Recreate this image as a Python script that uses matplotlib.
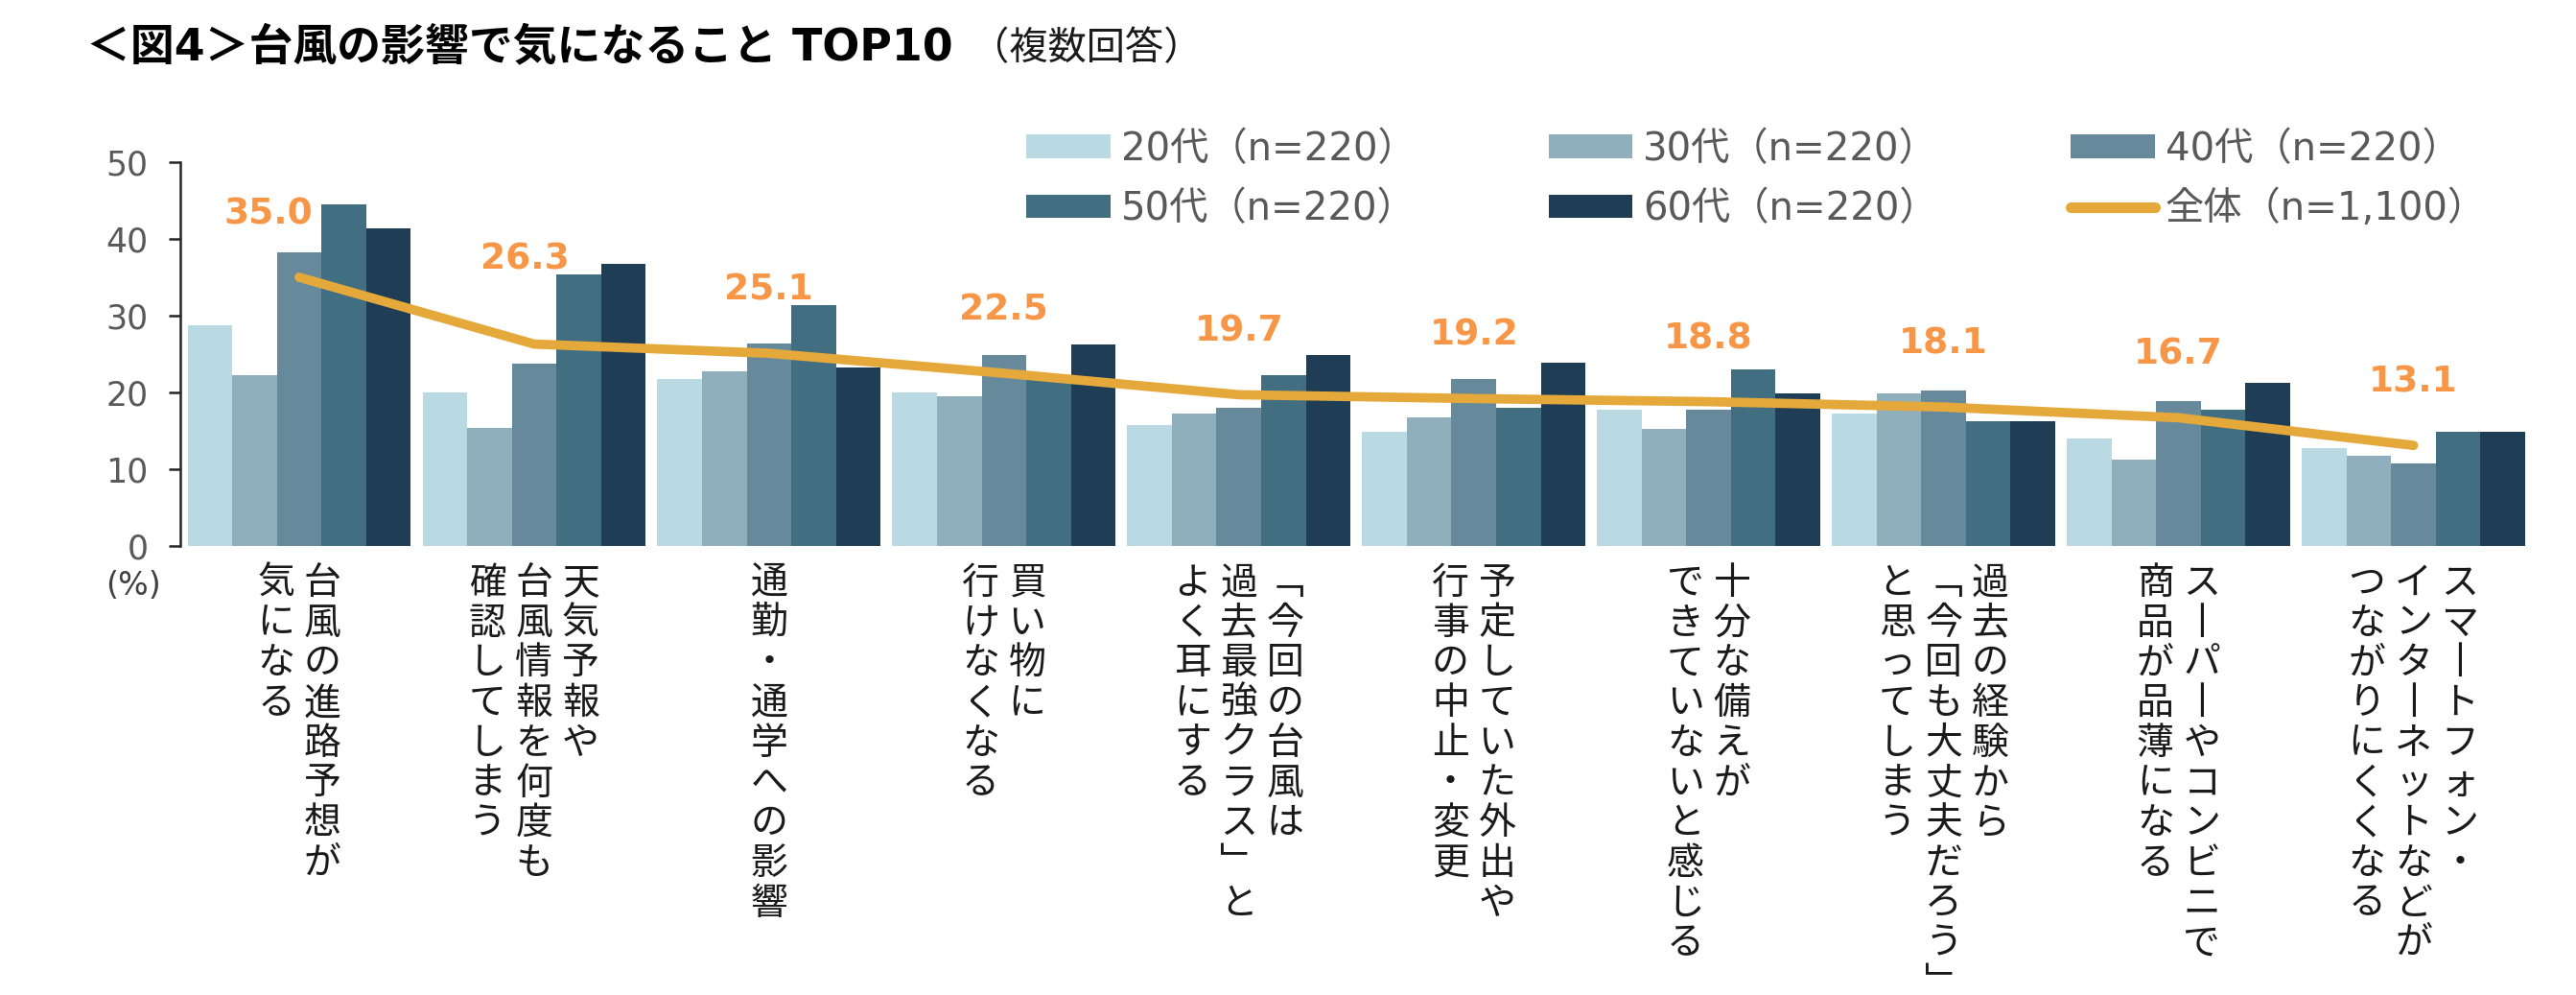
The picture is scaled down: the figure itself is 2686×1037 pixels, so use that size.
import matplotlib
matplotlib.use('Agg')
import matplotlib.pyplot as plt
import numpy as np

# 日本語はNoto Sans CJK JP、英数字はDejaVu Sans
plt.rcParams['font.family'] = ['DejaVu Sans', 'Noto Sans CJK JP']

# データ
categories = [
    '台風の進路予想が\n気になる',
    '天気予報や\n台風情報を何度も\n確認してしまう',
    '通勤・通学への影響',
    '買い物に\n行けなくなる',
    '「今回の台風は\n過去最強クラス」と\nよく耳にする',
    '予定していた外出や\n行事の中止・変更',
    '十分な備えが\nできていないと感じる',
    '過去の経験から\n「今回も大丈夫だろう」\nと思ってしまう',
    'スーパーやコンビニで\n商品が品薄になる',
    'スマートフォン・\nインターネットなどが\nつながりにくくなる',
]
age_labels = ['20代（n=220）', '30代（n=220）', '40代（n=220）', '50代（n=220）', '60代（n=220）']
total_label = '全体（n=1,100）'
v20 = [28.7, 20.0, 21.8, 20.0, 15.8, 14.9, 17.7, 17.2, 14.0, 12.7]
v30 = [22.3, 15.4, 22.8, 19.5, 17.2, 16.7, 15.3, 19.9, 11.3, 11.7]
v40 = [38.2, 23.7, 26.4, 24.9, 18.0, 21.7, 17.7, 20.3, 18.9, 10.8]
v50 = [44.5, 35.4, 31.4, 22.3, 22.2, 18.0, 23.0, 16.3, 17.7, 14.9]
v60 = [41.4, 36.8, 23.2, 26.3, 24.9, 23.9, 19.9, 16.3, 21.3, 14.9]
total = [35.0, 26.3, 25.1, 22.5, 19.7, 19.2, 18.8, 18.1, 16.7, 13.1]
yticks = [0, 10, 20, 30, 40, 50]

# スタイル
colors = ['#B9D9E3', '#90AFBC', '#668A9C', '#416E80', '#1F3E56']
line_color = '#E5A83A'
value_color = '#F79646'
gray = '#595959'
label_dx = [-0.13, -0.04, 0, 0, 0, 0, 0, 0, 0, 0]
label_dy = [0, 2.8, 0, 0, 0, 0, 0, 0, 0, 0]
vert = {'ー': '丨', '「': '﹁', '」': '﹂'}

W, H = 2686, 1037
fig = plt.figure(figsize=(W / 100, H / 100), dpi=100)
ax = fig.add_axes([188 / W, 1 - 569 / H, 2451 / W, 400 / H])

x = np.arange(len(categories))
bw = 0.19
bars = []
for j, vals in enumerate([v20, v30, v40, v50, v60]):
    b = ax.bar(x + (j - 2) * bw, vals, bw, color=colors[j], label=age_labels[j], zorder=2)
    bars.append(b)
line, = ax.plot(x, total, color=line_color, lw=7, solid_capstyle='round',
                solid_joinstyle='round', zorder=3, label=total_label)

# 全体の数値ラベル
for i, v in enumerate(total):
    ax.text(i + label_dx[i], v + 8.2 + label_dy[i], f'{v:.1f}', ha='center', va='center',
            fontsize=27, fontweight='bold', color=value_color, zorder=4)

ax.set_xlim(-0.506, 9.5)
ax.set_ylim(0, 50)
ax.set_yticks(yticks)
ax.set_xticks([])
for s in ['top', 'right', 'bottom']:
    ax.spines[s].set_visible(False)
ax.spines['left'].set_color('#262626')
ax.spines['left'].set_linewidth(1.8)
ax.tick_params(axis='y', length=9, width=1.8, pad=15, labelsize=25,
               labelcolor=gray, color='#262626')

# 縦書きの項目名（右の列から）
for i, cat in enumerate(categories):
    cols = cat.split('\n')
    n = len(cols)
    for j, col in enumerate(cols):
        dx = ((n - 1) / 2 - j) * 48.5
        for k, ch in enumerate(col):
            ax.annotate(vert.get(ch, ch), xy=(i, 0), xycoords=('data', 'axes fraction'),
                        xytext=(dx * 0.72, -(50 + k * 41.7) * 0.72), textcoords='offset points',
                        ha='center', va='baseline', fontsize=28,
                        family=['Noto Sans CJK JP', 'DejaVu Sans'], color='#1a1a1a')

fig.text(139 / W, 1 - 610 / H, '(%)', ha='center', va='center', fontsize=24, color='#404040')

# 凡例
handles = [bars[0], bars[3], bars[1], bars[4], bars[2], line]
labels = [age_labels[0], age_labels[3], age_labels[1], age_labels[4], age_labels[2], total_label]
leg = ax.legend(handles, labels, ncol=3, loc='upper left',
                bbox_to_anchor=(1070 / W, 1 - 136 / H), bbox_transform=fig.transFigure,
                frameon=False, fontsize=29, handlelength=2.18, handleheight=0.57,
                handletextpad=0.27, columnspacing=3.43, labelspacing=0.55,
                borderpad=0, borderaxespad=0)
for t in leg.get_texts():
    t.set_color(gray)
for ln in leg.get_lines():
    ln.set_linewidth(8)

# タイトル
title = fig.text(90 / W, 1 - 50 / H, '＜図4＞台風の影響で気になること TOP10',
                 ha='left', va='center', fontsize=33, fontweight='bold', color='#000000')
fig.canvas.draw()
bb = title.get_window_extent()
fig.text((bb.x1 + 18) / W, 1 - 51 / H, '（複数回答）', ha='left', va='center',
         fontsize=29, color='#1a1a1a')

fig.savefig('out.png', dpi=100, facecolor='white')
